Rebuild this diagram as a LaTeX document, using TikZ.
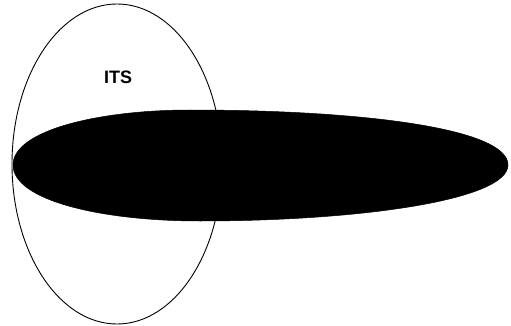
\documentclass[tikz,border=0pt]{standalone}
\usepackage{fontspec}
\setmainfont{Liberation Sans}
\usetikzlibrary{shapes.geometric}
\tikzset{
  setring/.style={draw, ellipse, line width=0.9pt, minimum width=210pt, minimum height=320pt, inner sep=0pt},
  setlabel/.style={font=\fontsize{18}{22}\selectfont\bfseries, inner sep=0pt},
  blob/.style={fill=black, draw=black, line width=0.5pt}
}
\begin{document}
\begin{tikzpicture}[x=1pt, y=-1pt]
  \useasboundingbox (0,0) rectangle (511,326);
  % outline set
  \node[setring] (its) at (117,164) {};
  \node[setlabel] (itslabel) at (118,77) {ITS};
  % filled egg on top
  \path[blob] (13,165) .. controls (13,130) and (100,110) .. (190,110)
    .. controls (360,110) and (508,128) .. (508,165)
    .. controls (508,200) and (360,221) .. (200,221)
    .. controls (100,221) and (13,200) .. (13,165) -- cycle;
\end{tikzpicture}
\end{document}
